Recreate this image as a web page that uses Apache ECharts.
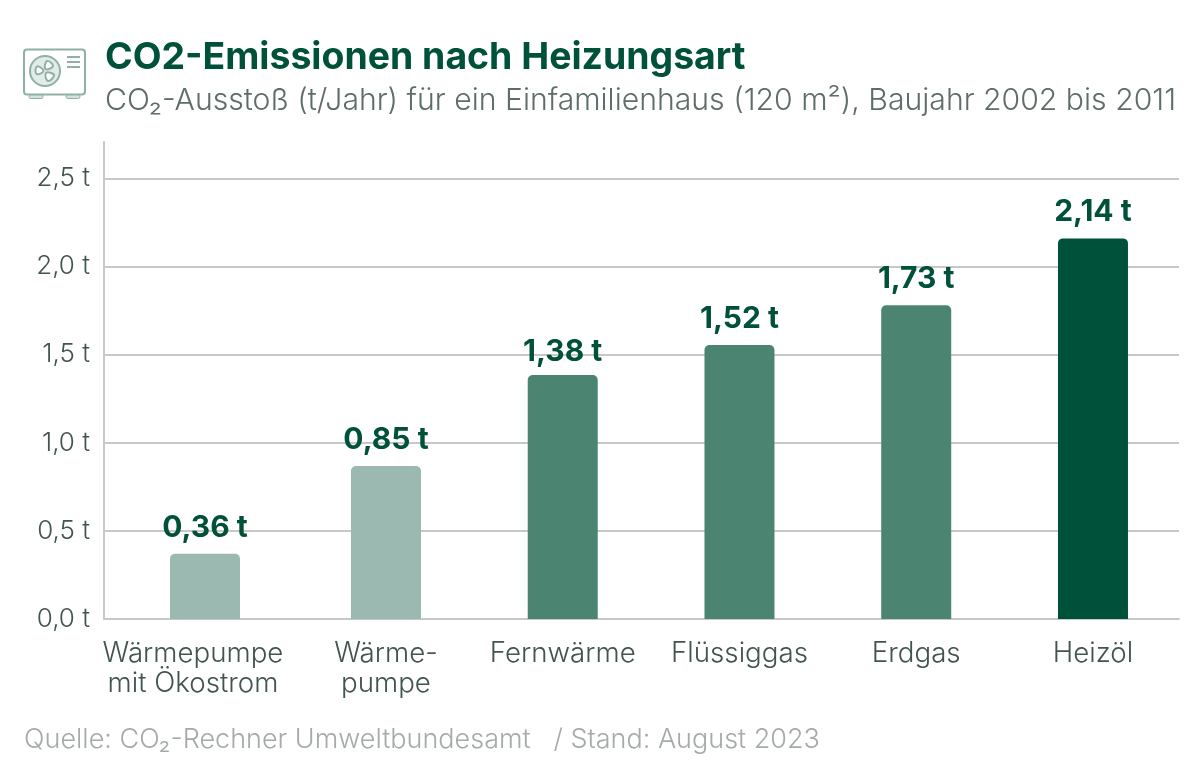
<!DOCTYPE html>
<html><head><meta charset="utf-8">
<style>html,body{margin:0;padding:0;background:#fff}#c{width:1200px;height:771px}</style>
<script src="https://cdn.jsdelivr.net/npm/echarts@6/dist/echarts.min.js"></script>
</head><body><div id="c"></div>
<script>
const categories = ['Wärmepumpe\nmit Ökostrom','Wärme-\npumpe','Fernwärme','Flüssiggas','Erdgas','Heizöl'];
const barHeights = [0.37,0.868,1.385,1.555,1.78,2.16];
const valueLabels = ['0,36 t','0,85 t','1,38 t','1,52 t','1,73 t','2,14 t'];
const barColors = ['#9bb9b0','#9bb9b0','#4c8472','#4c8472','#4c8472','#00513a'];
const yTickLabels = ['0,0 t','0,5 t','1,0 t','1,5 t','2,0 t','2,5 t'];
const titleText = 'CO2-Emissionen nach Heizungsart';
const subtitleText = 'CO₂-Ausstoß (t/Jahr) für ein Einfamilienhaus (120 m²), Baujahr 2002 bis 2011';
const footerText = 'Quelle: CO₂-Rechner Umweltbundesamt   / Stand: August 2023';

const FONT = 'Inter, "Noto Sans", sans-serif';
const YMAX = 2.707;
const ic = '#8fb0a5';
const lbl = {interval:0,margin:20,fontSize:27.7,lineHeight:30,fontWeight:300,color:'#42544e',fontFamily:FONT};
const barLabel = off => ({show:true,position:'top',distance:11,fontFamily:FONT,fontSize:30,fontWeight:700,color:'#00513a',
  formatter:p=>valueLabels[p.dataIndex+off]});
const barData = (from,to) => barHeights.slice(from,to).map((v,i)=>{
  const k=i+from, d={value:v,itemStyle:{color:barColors[k]}};
  if(k===2) d.label={offset:[0,3]};
  return d;
});
const blade = pts => ({type:'polygon',shape:{points:pts,smooth:0.5},style:{fill:'#fff',stroke:ic,lineWidth:2,lineJoin:'round'}});
const chart = echarts.init(document.getElementById('c'), null, {renderer:'canvas'});
chart.setOption({
  animation:false,
  backgroundColor:'#fff',
  textStyle:{fontFamily:FONT},
  title:[
    {text:titleText,left:105,top:39,padding:0,textStyle:{fontFamily:FONT,fontSize:37.4,fontWeight:700,color:'#00513a'}},
    {text:subtitleText,left:105,top:86,padding:0,textStyle:{fontFamily:FONT,fontSize:30.2,fontWeight:300,color:'#5f6d68'}},
    {text:footerText,left:24,top:726,padding:0,textStyle:{fontFamily:FONT,fontSize:27,fontWeight:300,color:'#a5abaa'}}
  ],
  grid:[
    {left:104,right:21,top:142,bottom:152},
    {left:297.6,width:883.75,top:142,bottom:152},
    {left:116.6,width:176.75,top:142,bottom:152}
  ],
  xAxis:[
    {gridIndex:0,type:'category',data:categories,axisTick:{show:false},axisLabel:{show:false},
     axisLine:{lineStyle:{color:'#c8c8c8',width:2}}},
    {gridIndex:1,type:'category',data:categories.slice(1),axisTick:{show:false},axisLine:{show:false},axisLabel:lbl},
    {gridIndex:2,type:'category',data:[{value:categories[0],textStyle:{padding:[0,24,0,0]}}],axisTick:{show:false},axisLine:{show:false},axisLabel:lbl}
  ],
  yAxis:[
    {gridIndex:0,type:'value',min:0,max:YMAX,interval:0.5,
     axisLine:{show:true,lineStyle:{color:'#c8c8c8',width:2}},axisTick:{show:false},
     splitLine:{show:true,showMaxLine:false,showMinLine:false,lineStyle:{color:'#c8c8c8',width:2}},
     axisLabel:{margin:14,fontSize:26,fontWeight:300,color:'#42544e',fontFamily:FONT,showMaxLabel:false,padding:[2,0,0,0],
       formatter:v=>yTickLabels[Math.round(v/0.5)]||''}},
    {gridIndex:1,type:'value',min:0,max:YMAX,show:false},
    {gridIndex:2,type:'value',min:0,max:YMAX,show:false}
  ],
  series:[
    {type:'bar',xAxisIndex:2,yAxisIndex:2,barWidth:70,data:barData(0,1),itemStyle:{borderRadius:[5,5,0,0]},label:barLabel(0)},
    {type:'bar',xAxisIndex:1,yAxisIndex:1,barWidth:70,data:barData(1,6),itemStyle:{borderRadius:[5,5,0,0]},label:barLabel(1)}
  ],
  graphic:[
    {type:'rect',shape:{x:24,y:49.5,width:61,height:45,r:3},style:{fill:'#fff',stroke:ic,lineWidth:2}},
    {type:'rect',shape:{x:29,y:95,width:14,height:3.5,r:2},style:{fill:'#d5e1dd',stroke:ic,lineWidth:1}},
    {type:'rect',shape:{x:66,y:95,width:14,height:3.5,r:2},style:{fill:'#d5e1dd',stroke:ic,lineWidth:1}},
    {type:'circle',shape:{cx:45,cy:71,r:15},style:{fill:'#e3ebe8',stroke:ic,lineWidth:2}},
    blade([[43.5,71],[37,66.5],[36.5,74]]),
    blade([[45.5,69],[47,61],[53,66]]),
    blade([[46,73],[54,75],[48,81]]),
    {type:'line',shape:{x1:67,y1:57,x2:80,y2:57},style:{stroke:ic,lineWidth:2}},
    {type:'line',shape:{x1:67,y1:62,x2:80,y2:62},style:{stroke:ic,lineWidth:2}},
    {type:'line',shape:{x1:67,y1:67,x2:80,y2:67},style:{stroke:ic,lineWidth:2}}
  ]
});
</script></body></html>
